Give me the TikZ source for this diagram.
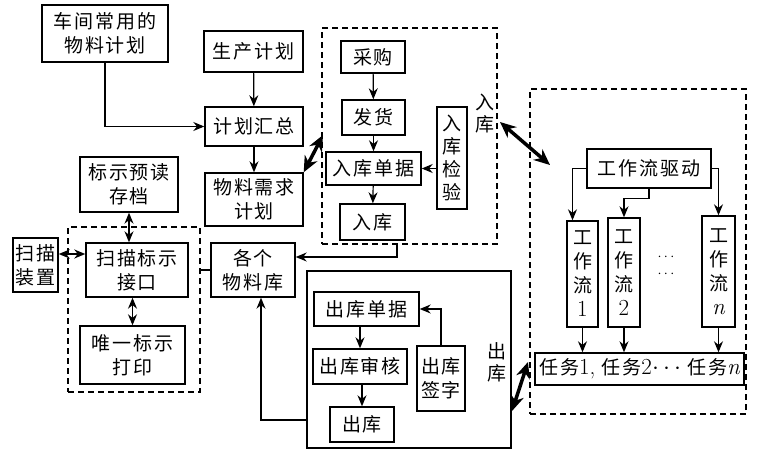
\documentclass[tikz,border=0pt]{standalone}
\usepackage{fontspec}
\newfontfamily\cjk[LetterSpace=10]{Noto Sans CJK SC}
\usetikzlibrary{arrows.meta, positioning, calc}
\newcommand{\wnum}[1]{{\rmfamily\fontsize{23}{24}\selectfont #1}}

\begin{document}
\begin{tikzpicture}[x=1pt, y=-1pt, >={Stealth[length=11pt, width=9pt]},
  box/.style={draw, line width=1.4pt, inner sep=0pt, align=center,
              font=\cjk\fontsize{19}{24}\selectfont},
  dashbox/.style={draw, line width=1.2pt, dash pattern=on 6pt off 4pt, inner sep=0pt},
  link/.style={->, line width=1.2pt},
  both/.style={{Stealth[length=16pt, width=14pt]}-{Stealth[length=16pt, width=14pt]},
               line width=3.5pt},
  tag/.style={align=center, inner sep=0pt, font=\cjk\fontsize{19}{22}\selectfont}]
  \useasboundingbox (0,0) rectangle (758,458);

  % Planning
  \node[box, minimum width=126pt, minimum height=57pt] (common) at (105,33.5) {车间常用的\\物料计划};
  \node[box, minimum width=99pt, minimum height=41pt] (prod) at (253.5,51.5) {生产计划};
  \node[box, minimum width=98pt, minimum height=39pt] (sum) at (254,126.5) {计划汇总};
  \node[box, minimum width=98pt, minimum height=53pt] (mrp) at (254,199.5) {物料需求\\计划};

  % Marking
  \node[box, minimum width=98pt, minimum height=55pt] (preread) at (129,184.5) {标示预读\\存档};
  \node[dashbox, minimum width=132pt, minimum height=165pt] (leftgroup) at (134,309.5) {};
  \node[box, minimum width=45pt, minimum height=54pt] (scanner) at (35.5,265) {扫描\\装置};
  \node[box, minimum width=102pt, minimum height=54pt] (iface) at (137,270) {扫描标示\\接口};
  \node[box, minimum width=105pt, minimum height=58pt] (label) at (132.5,355) {唯一标示\\打印};
  \node[box, minimum width=84pt, minimum height=54pt] (stores) at (253,270) {各个\\物料库};

  % Goods in
  \node[dashbox, minimum width=175pt, minimum height=216pt] (ingroup) at (409.5,136) {};
  \node[box, minimum width=64pt, minimum height=32pt] (buy) at (373,57) {采购};
  \node[box, minimum width=63pt, minimum height=35pt] (ship) at (373.5,117.5) {发货};
  \node[box, minimum width=95pt, minimum height=33pt] (inbill) at (373.5,168.5) {入库单据};
  \node[box, minimum width=65pt, minimum height=36pt] (instock) at (372.5,222) {入库};
  \node[box, minimum width=30pt, minimum height=102pt, font=\cjk\fontsize{19}{23}\selectfont]
    (check) at (452,158) {入\\库\\检\\验};
  \node[tag] (inlabel) at (485,114) {入\\库};

  % Goods out
  \node[draw, line width=1.2pt, inner sep=0pt, minimum width=204pt, minimum height=177pt]
    (outgroup) at (409,359.5) {};
  \node[box, minimum width=105pt, minimum height=34pt] (outbill) at (366.5,309) {出库单据};
  \node[box, minimum width=94pt, minimum height=35pt] (audit) at (360,366.5) {出库审核};
  \node[box, minimum width=64pt, minimum height=35pt] (outstock) at (362,424.5) {出库};
  \node[box, minimum width=48pt, minimum height=65pt] (sign) at (441,378.5) {出库\\签字};
  \node[tag] (outlabel) at (497,362) {出\\库};

  % Workflow
  \node[dashbox, minimum width=216pt, minimum height=325pt] (wfgroup) at (638,251.5) {};
  \node[box, minimum width=124pt, minimum height=39pt] (driver) at (649,168.5) {工作流驱动};
  \node[box, minimum width=31pt, minimum height=106pt] (wf1) at (582.5,274) {工\\作\\流\\\wnum{1}};
  \node[box, minimum width=32pt, minimum height=109pt] (wf2) at (624,272.5) {工\\作\\流\\\wnum{2}};
  \node[box, minimum width=33pt, minimum height=111pt] (wfn) at (718.5,271.5) {工\\作\\流\\\wnum{\itshape n}};
  \node[tag, font=\rmfamily\fontsize{15}{17}\selectfont] (dots) at (666,266) {$\cdots$\\$\cdots$};
  \node[box, minimum width=209pt, minimum height=32pt] (tasks) at (639.5,369)
    {任务\wnum{1,} 任务\wnum{2$\cdots$} 任务\wnum{\itshape n}};

  % Connectors
  \draw[link] (common.south) |- (sum.west);
  \draw[link] (prod) -- (sum);
  \draw[link] (sum) -- (mrp);
  \draw[link] (buy) -- (ship);
  \draw[link] (ship) -- (inbill);
  \draw[link] (inbill) -- (instock);
  \draw[link] (check.west |- inbill.east) -- (inbill.east);
  \draw[link] (audit.north |- outbill.south) -- (audit.north);
  \draw[link] (outstock.north |- audit.south) -- (outstock.north);
  \draw[link] (sign.north) |- (outbill.east);
  \draw[link] (driver.west) -| ($(wf1.north)+(-10,0)$);
  \draw[link] (driver.south) -- ++(0,10) -| (wf2.north);
  \draw[link] (driver.east) -| (wfn.north);
  \foreach \w in {wf1,wf2,wfn}
    \draw[link] (\w.south) -- (\w.south |- tasks.north);
  \draw[link, <->] (preread.south) -- (preread.south |- iface.north);
  \draw[link, <->] (label.north |- iface.south) -- (label.north);
  \draw[link, <->, line width=2pt] ($(scanner.east)+(0,-11)$) -- ($(iface.west)+(0,-16)$);
  \draw[line width=1.2pt] (leftgroup.east |- stores.west) -- (stores.west);
  \coordinate (inleave) at (397,244);
  \draw[link] (inleave) |- ($(stores.east)+(0,-13)$);
  \draw[link] ($(outgroup.west)+(0,60.5)$) -| ($(stores.south)+(8,0)$);

  % Exchange
  \coordinate (mrpin) at (323,135);
  \coordinate (inout) at (500,122);
  \coordinate (wfin) at (550,165);
  \coordinate (outout) at (512,411);
  \coordinate (taskin) at (528,362);
  \draw[both] (mrp.north east) -- (mrpin);
  \draw[both] (inout) -- (wfin);
  \draw[both] (outout) -- (taskin);
\end{tikzpicture}
\end{document}
